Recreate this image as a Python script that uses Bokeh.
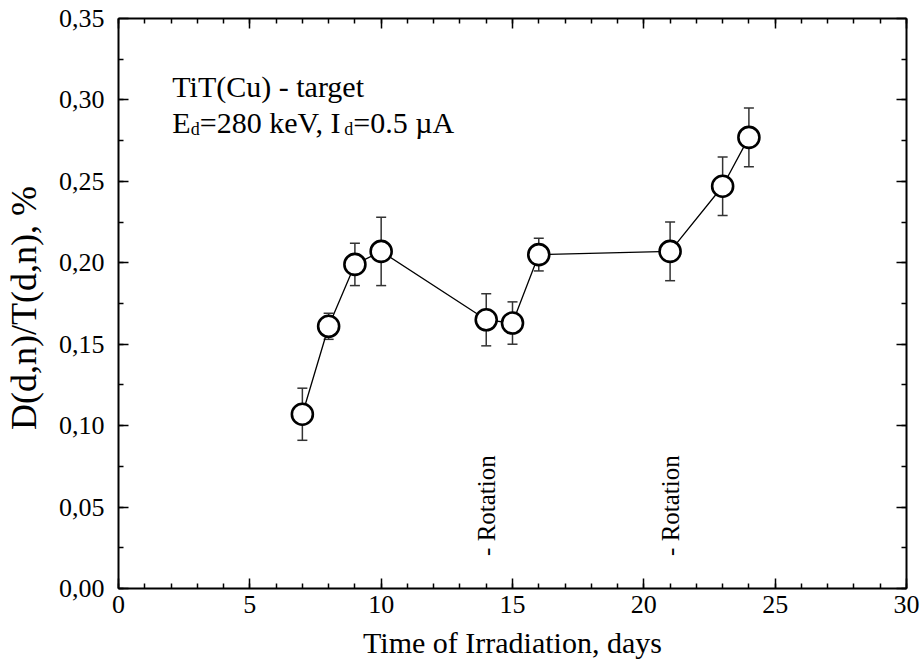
import math
from bokeh.plotting import figure
from bokeh.models import (Range1d, LinearAxis, FixedTicker, CustomJSTickFormatter,
                          ColumnDataSource, Whisker, TeeHead, Label)
from bokeh.embed import file_html
from bokeh.resources import INLINE
from bokeh.core.properties import value

# ---- data ----
days = [7, 8, 9, 10, 14, 15, 16, 21, 23, 24]
ratio = [0.107, 0.161, 0.199, 0.207, 0.165, 0.163, 0.205, 0.207, 0.247, 0.277]
err = [0.016, 0.008, 0.013, 0.021, 0.016, 0.013, 0.010, 0.018, 0.018, 0.018]

x_ticks = [0, 5, 10, 15, 20, 25, 30]
x_minor = list(range(0, 31))
y_ticks = [0.00, 0.05, 0.10, 0.15, 0.20, 0.25, 0.30, 0.35]
y_minor = [0.025 * i for i in range(15)]

rotation_days = [14, 21]
rotation_labels = ["- Rotation", "- Rotation"]

FONT = "Liberation Serif"

src = ColumnDataSource(dict(
    x=days, y=ratio,
    lo=[r - e for r, e in zip(ratio, err)],
    hi=[r + e for r, e in zip(ratio, err)],
))

p = figure(width=923, height=672, output_backend="svg", toolbar_location=None,
           x_range=Range1d(0, 30), y_range=Range1d(0, 0.35),
           min_border_left=118, min_border_right=17,
           min_border_top=18, min_border_bottom=84,
           x_axis_label="Time of Irradiation, days",
           y_axis_label="D(d,n)/T(d,n),  %")
p.grid.visible = False
p.outline_line_color = None
p.background_fill_color = "white"
p.border_fill_color = "white"

bottom = p.below[0]
left = p.left[0]

xt = FixedTicker(ticks=x_ticks, minor_ticks=x_minor)
yt = FixedTicker(ticks=y_ticks, minor_ticks=y_minor)
yfmt = CustomJSTickFormatter(code="return tick.toFixed(2).replace('.', ',');")
blank = CustomJSTickFormatter(code="return '';")

top = LinearAxis()
right = LinearAxis()
p.add_layout(top, "above")
p.add_layout(right, "right")

bottom.ticker = xt
top.ticker = xt
left.ticker = yt
right.ticker = yt
left.formatter = yfmt

for ax in [bottom, left, top, right]:
    ax.axis_line_width = 2
    ax.axis_line_color = "black"
    ax.major_tick_in = 10
    ax.major_tick_out = 0
    ax.minor_tick_in = 5
    ax.minor_tick_out = 0
    ax.major_tick_line_width = 1.5
    ax.minor_tick_line_width = 1.5
    ax.major_tick_line_color = "black"
    ax.minor_tick_line_color = "black"
    ax.major_label_text_font = FONT
    ax.major_label_text_font_size = "26px"
    ax.major_label_text_color = "black"
    ax.axis_label_text_font = FONT
    ax.axis_label_text_font_style = "normal"
    ax.axis_label_text_color = "black"

for ax in [top, right]:
    ax.formatter = blank
    ax.major_label_standoff = 0
    ax.axis_label = None

bottom.major_label_standoff = 7
bottom.axis_label_standoff = 10
bottom.axis_label_text_font_size = "30px"
left.major_label_standoff = 14
left.axis_label_standoff = 12
left.axis_label_text_font_size = "36px"

# error bars
p.add_layout(Whisker(source=src, base="x", lower="lo", upper="hi", dimension="height",
                     line_color="#333333", line_width=1.5,
                     upper_head=TeeHead(size=10, line_color="#333333", line_width=1.5),
                     lower_head=TeeHead(size=10, line_color="#333333", line_width=1.5)))

p.line("x", "y", source=src, line_color="black", line_width=1.3)
p.scatter("x", "y", source=src, size=21, marker="circle", fill_color="white",
          line_color="black", line_width=2.6)

# rotation markers
p.text(x=rotation_days, y=[0.02] * len(rotation_days), text=rotation_labels,
       angle=math.pi / 2, text_align="left", text_baseline="middle",
       text_font=value(FONT), text_font_size="25px", text_color="black")

# annotation block
X0 = 2.05
Y1 = 0.3083
Y2 = 0.2862
main_sz = "30px"
sub_sz = "18px"
pieces = [
    ("TiT(Cu) - target", X0, Y1, 0, 0, main_sz),
    ("E", X0, Y2, 0, 0, main_sz),
    ("d", X0, Y2, 18.5, -7, sub_sz),
    ("=280 keV, I", X0, Y2, 27.5, 0, main_sz),
    ("d", X0, Y2, 172, -7, sub_sz),
    ("=0.5 \u00b5A", X0, Y2, 181, 0, main_sz),
]
for t, x, y, dx, dy, sz in pieces:
    p.add_layout(Label(x=x, y=y, x_offset=dx, y_offset=dy, text=t,
                       text_font=FONT, text_font_size=sz, text_color="black",
                       text_align="left", text_baseline="alphabetic"))

open("out.html", "w").write(file_html(p, INLINE))
